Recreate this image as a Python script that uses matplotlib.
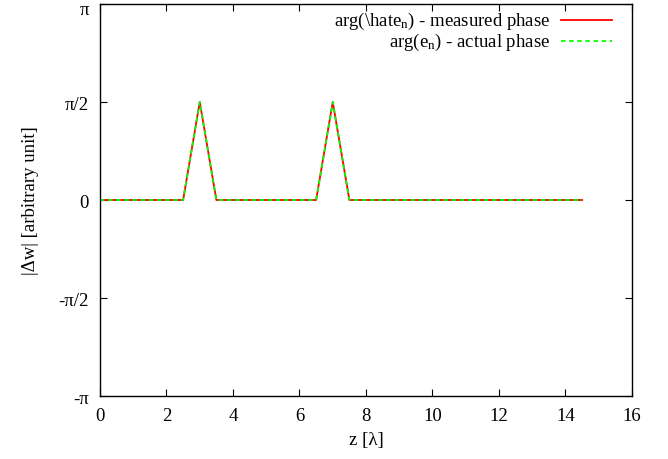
import numpy as np
import matplotlib
matplotlib.use("Agg")
import matplotlib.pyplot as plt
import matplotlib.transforms as mtransforms
from matplotlib.lines import Line2D

plt.rcParams['font.family'] = ['Liberation Serif', 'DejaVu Serif']
plt.rcParams['mathtext.fontset'] = 'custom'
plt.rcParams['mathtext.rm'] = 'Liberation Serif'
plt.rcParams['mathtext.it'] = 'Liberation Serif:italic'

# phase along z (in wavelengths)
z = [0, 2.5, 3, 3.5, 6.5, 7, 7.5, 14.5]
measured_phase = [0, 0, np.pi / 2, 0, 0, np.pi / 2, 0, 0]
actual_phase = [0, 0, np.pi / 2, 0, 0, np.pi / 2, 0, 0]

xticks = [0, 2, 4, 6, 8, 10, 12, 14, 16]
yticks = [-np.pi, -np.pi / 2, 0, np.pi / 2, np.pi]
yticklabels = ['-π', '-π/2', '0', 'π/2', 'π']
legend_labels = [r'arg(\hate$_{\rm n}$) - measured phase',
                 r'arg(e$_{\rm n}$) - actual phase']

FS = 13.5
RED = '#ff0000'
GREEN = '#00ff00'

fig = plt.figure(figsize=(6.68, 4.6), dpi=100)
ax = fig.add_axes([100 / 668, 1 - 397 / 460, 532 / 668, 392 / 460])

ax.plot(z, measured_phase, color=RED, lw=1.3)
ax.plot(z, actual_phase, color=GREEN, lw=1.3, dashes=(2.5, 2))

ax.set_xlim(0, 16)
ax.set_ylim(-np.pi, np.pi)
ax.set_xticks(xticks)
ax.set_yticks(yticks)
ax.set_yticklabels(yticklabels)
ax.tick_params(direction='in', top=True, right=True, length=5, width=0.8,
               labelsize=FS, pad=8)
for s in ax.spines.values():
    s.set_linewidth(1.0)

# keep the topmost tick label inside the canvas
top_label = ax.get_yticklabels()[-1]
top_label.set_transform(top_label.get_transform() +
                        mtransforms.ScaledTranslation(0, -3 / 100, fig.dpi_scale_trans))

ax.set_xlabel('z [λ]', fontsize=FS, labelpad=5)
ax.set_ylabel('|Δw| [arbitrary unit]', fontsize=FS, labelpad=14)

# legend: right-aligned labels followed by line samples
tr = ax.transAxes
rows = [(legend_labels[0], RED, None), (legend_labels[1], GREEN, (2.5, 2))]
for i, (lab, col, dsh) in enumerate(rows):
    yy = 1 - (16 + 21 * i) / 392
    ax.text((550 - 100) / 532, yy, lab, transform=tr, ha='right', va='center',
            fontsize=FS)
    ln = Line2D([(561 - 100) / 532, (612 - 100) / 532], [yy, yy], transform=tr,
                color=col, lw=1.3)
    if dsh:
        ln.set_dashes(dsh)
    ax.add_line(ln)

fig.savefig('out.png', dpi=100)
